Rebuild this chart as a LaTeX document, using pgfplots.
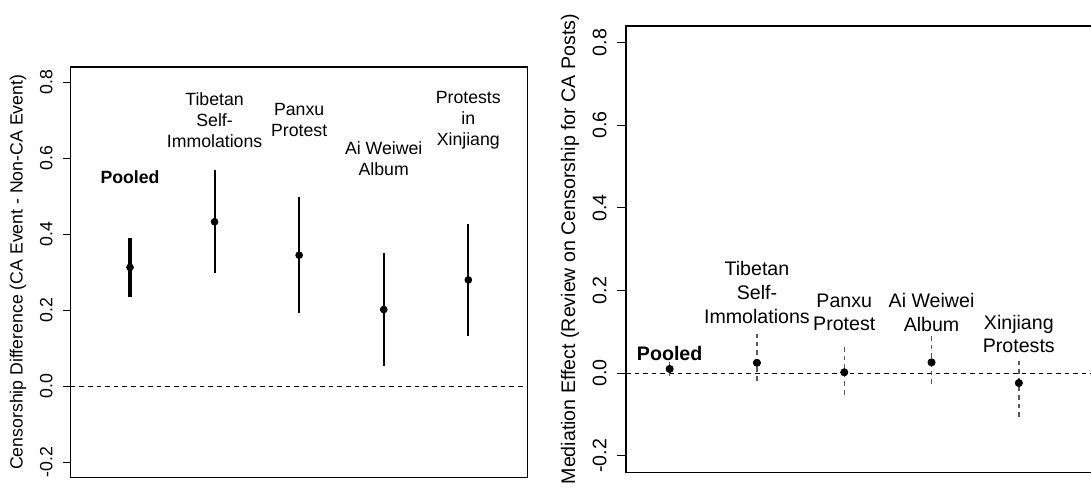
\documentclass[border=0pt]{standalone}
\usepackage{pgfplots}
\pgfplotsset{compat=1.18}
\usepackage{fontspec}
\setmainfont{Liberation Sans}

% 1 px of the reference = 0.5bp
\newcommand{\fl}{\fontsize{8.85bp}{10.6bp}\selectfont}
\newcommand{\fr}{\fontsize{9.8bp}{11.8bp}\selectfont}

\pgfplotsset{
  rplot/.style={
    scale only axis, anchor=south west, clip=false,
    xtick=\empty,
    ytick={-0.2,0,0.2,0.4,0.6,0.8},
    yticklabels={-0.2,0.0,0.2,0.4,0.6,0.8},
    ytick pos=left,
    tick align=outside,
    tick style={black, line width=0.6bp},
    axis line style={black, line width=0.6bp},
    yticklabel style={rotate=90, anchor=south, inner sep=0pt},
    ticklabel shift=5.2bp,
  },
}

\begin{document}
\begin{tikzpicture}

% ---- left panel: censorship difference
\begin{axis}[rplot,
  at={(35.4bp,7.25bp)}, width=228.35bp, height=205.2bp,
  xmin=0.3, xmax=5.7, ymin=-0.24, ymax=0.84,
  major tick length=3.7bp,
  yticklabel style={font=\fl},
  ylabel={Censorship Difference (CA Event - Non-CA Event)},
  every axis y label/.style={at={([xshift=-26.4bp]axis description cs:0,0.5)}, rotate=90, anchor=center, font=\fl},
]
\addplot[black, line width=0.6bp, dash pattern=on 2.3bp off 2bp] coordinates {(0.3,0) (5.7,0)};
% pooled estimate, thick interval
\addplot[black, line width=2bp] coordinates {(1,0.236) (1,0.391)};
\addplot[black, line width=1bp] coordinates {(2,0.297) (2,0.568)};
\addplot[black, line width=1bp] coordinates {(3,0.193) (3,0.497)};
\addplot[black, line width=1bp] coordinates {(4,0.053) (4,0.351)};
\addplot[black, line width=1bp] coordinates {(5,0.132) (5,0.427)};
\addplot[only marks, mark=*, mark size=1.7bp, black] coordinates {(1,0.313) (2,0.433) (3,0.345) (4,0.202) (5,0.280)};
\node[font=\fl\bfseries] at (axis cs:1,0.55) {Pooled};
\node[font=\fl, align=center] at (axis cs:2,0.7) {Tibetan\\Self-\\Immolations};
\node[font=\fl, align=center] at (axis cs:3,0.7) {Panxu\\Protest};
\node[font=\fl, align=center] at (axis cs:4,0.6) {Ai Weiwei\\Album};
\node[font=\fl, align=center] at (axis cs:5,0.7) {Protests\\in\\Xinjiang};
\end{axis}

% ---- right panel: mediation effect (cropped on the right)
\begin{axis}[rplot,
  at={(313bp,9.85bp)}, width=235.7bp, height=223.15bp,
  xmin=0.5, xmax=5.9, ymin=-0.24, ymax=0.84,
  major tick length=4.3bp,
  yticklabel style={font=\fr},
  ylabel={Mediation Effect (Review on Censorship for CA Posts)},
  every axis y label/.style={at={([xshift=-28bp]axis description cs:0,0.5)}, rotate=90, anchor=center, font=\fr},
]
\addplot[black, line width=0.6bp, dash pattern=on 2.3bp off 2bp] coordinates {(0.5,0) (5.9,0)};
\addplot[black!65, line width=0.7bp, dash pattern=on 2.3bp off 2bp] coordinates {(1,-0.006) (1,0.028)};
\addplot[black!65, line width=0.7bp, dash pattern=on 2.3bp off 2bp] coordinates {(2,-0.018) (2,0.095)};
\addplot[black!65, line width=0.7bp, dash pattern=on 2.3bp off 2bp] coordinates {(3,-0.052) (3,0.067)};
\addplot[black!65, line width=0.7bp, dash pattern=on 2.3bp off 2bp] coordinates {(4,-0.026) (4,0.095)};
\addplot[black!65, line width=0.7bp, dash pattern=on 2.3bp off 2bp] coordinates {(5,-0.106) (5,0.038)};
\addplot[only marks, mark=*, mark size=1.8bp, black] coordinates {(1,0.010) (2,0.025) (3,0.002) (4,0.026) (5,-0.024)};
\node[font=\fr\bfseries] at (axis cs:1,0.047) {Pooled};
\node[font=\fr, align=center] at (axis cs:2,0.195) {Tibetan\\Self-\\Immolations};
\node[font=\fr, align=center] at (axis cs:3,0.147) {Panxu\\Protest};
\node[font=\fr, align=center] at (axis cs:4,0.147) {Ai Weiwei\\Album};
\node[font=\fr, align=center] at (axis cs:5,0.095) {Xinjiang\\Protests};
\end{axis}

\pgfresetboundingbox
\path[use as bounding box] (0,0) rectangle (545.5bp,246bp);
\end{tikzpicture}
\end{document}
